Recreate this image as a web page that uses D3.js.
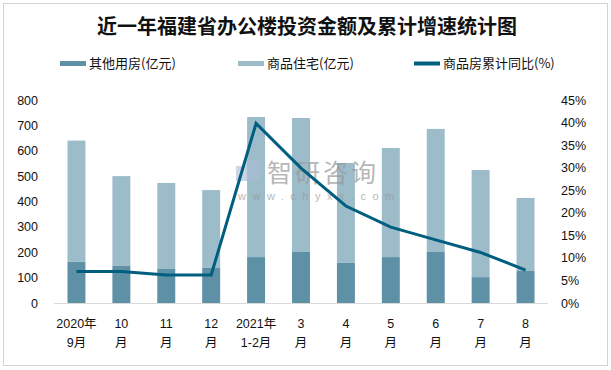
<!DOCTYPE html>
<html>
<head>
<meta charset="utf-8">
<script src="https://cdn.jsdelivr.net/npm/d3@7"></script>
<style>
  body { margin: 0; background: #fff; }
  svg { display: block; font-family: "Liberation Sans", "Noto Sans CJK SC", sans-serif; }
</style>
</head>
<body>
<script>
// categories, two label lines each
var months = ["2020年9月", "10月", "11月", "12月", "2021年1-2月", "3月", "4月", "5月", "6月", "7月", "8月"];
var labelTop = ["2020年", "10", "11", "12", "2021年", "3", "4", "5", "6", "7", "8"];
var labelBottom = ["9月", "月", "月", "月", "1-2月", "月", "月", "月", "月", "月", "月"];

// 亿元
var otherUse = [162, 148, 134, 138, 181, 201, 158, 181, 201, 102, 126];
var housing = [478, 352, 339, 307, 552, 528, 394, 430, 485, 422, 288];
// %
var growth = [7.0, 7.0, 6.2, 6.2, 39.8, 29.9, 21.5, 16.8, 14.0, 11.2, 7.3];

var leftTicks = [0, 100, 200, 300, 400, 500, 600, 700, 800];
var rightTicks = [0, 5, 10, 15, 20, 25, 30, 35, 40, 45];

var width = 611, height = 370;
var darkColor = "#5e90a6", lightColor = "#9dbcca", lineColor = "#005f7f";

var svg = d3.select("body").append("svg")
    .attr("width", width)
    .attr("height", height);

svg.append("rect")
    .attr("x", 3.5).attr("y", 3.5)
    .attr("width", 604).attr("height", 362)
    .attr("fill", "none")
    .attr("stroke", "#a6a6a6")
    .attr("stroke-dasharray", "1,1");

svg.append("text")
    .attr("x", 307).attr("y", 34)
    .attr("text-anchor", "middle")
    .style("font-family", "'Noto Sans CJK SC', sans-serif")
    .style("font-size", "20px")
    .style("font-weight", "bold")
    .attr("fill", "#111")
    .text("近一年福建省办公楼投资金额及累计增速统计图");

var x = d3.scaleBand()
    .domain(months)
    .range([54, 548])
    .paddingInner(0.6)
    .paddingOuter(0.3);

var y = d3.scaleLinear().domain([0, 800]).range([303, 100]);
var y2 = d3.scaleLinear().domain([0, 45]).range([303, 100]);

// legend
var legend = [
  { name: "其他用房(亿元)", color: darkColor, x: 60, h: 5 },
  { name: "商品住宅(亿元)", color: lightColor, x: 238, h: 5 },
  { name: "商品房累计同比(%)", color: lineColor, x: 414, h: 4 }
];
var lg = svg.selectAll(".legend").data(legend).enter().append("g")
    .attr("class", "legend");
lg.append("rect")
    .attr("x", d => d.x).attr("y", d => 63.5 - d.h / 2)
    .attr("width", 26).attr("height", d => d.h)
    .attr("fill", d => d.color);
lg.append("text")
    .attr("x", d => d.x + 29).attr("y", 68)
    .style("font-family", "'Noto Sans CJK SC', sans-serif")
    .style("font-size", "13px")
    .attr("fill", "#111")
    .text(d => d.name);

// bars
svg.selectAll(".other").data(otherUse).enter().append("rect")
    .attr("class", "other")
    .attr("x", (d, i) => x(months[i]))
    .attr("width", x.bandwidth())
    .attr("y", d => y(d))
    .attr("height", d => y(0) - y(d))
    .attr("fill", darkColor);

svg.selectAll(".housing").data(housing).enter().append("rect")
    .attr("class", "housing")
    .attr("x", (d, i) => x(months[i]))
    .attr("width", x.bandwidth())
    .attr("y", (d, i) => y(d + otherUse[i]))
    .attr("height", (d, i) => y(otherUse[i]) - y(d + otherUse[i]))
    .attr("fill", lightColor);

// baseline
svg.append("line")
    .attr("x1", 54).attr("x2", 548)
    .attr("y1", 303.5).attr("y2", 303.5)
    .attr("stroke", "#d9d9d9");

// watermark
var wm = svg.append("g").attr("opacity", 0.7);
wm.append("rect").attr("x", 236).attr("y", 166).attr("width", 9).attr("height", 15).attr("fill", "#b8c6d6");
wm.append("rect").attr("x", 245).attr("y", 160).attr("width", 15).attr("height", 21).attr("fill", "#a9bdd3");
wm.append("text")
    .attr("x", 267).attr("y", 182)
    .style("font-family", "'Noto Sans CJK SC', sans-serif")
    .style("font-size", "25px")
    .style("letter-spacing", "3px")
    .attr("fill", "#9a9a9a")
    .text("智研咨询");
wm.append("text")
    .attr("x", 238).attr("y", 200)
    .style("font-size", "11px")
    .style("letter-spacing", "6.5px")
    .attr("fill", "#9a9a9a")
    .text("www.chyxx.com");

// line
var line = d3.line()
    .x((d, i) => x(months[i]) + x.bandwidth() / 2)
    .y(d => y2(d));
svg.append("path")
    .datum(growth)
    .attr("d", line)
    .attr("fill", "none")
    .attr("stroke", lineColor)
    .attr("stroke-width", 3);

// axes
var yAxis = d3.axisLeft(y).tickValues(leftTicks).tickSize(0).tickPadding(0);
svg.append("g")
    .attr("transform", "translate(38,0)")
    .call(yAxis)
    .call(g => g.select(".domain").remove())
    .selectAll("text")
    .style("font-size", "12.5px")
    .style("font-family", "'Liberation Sans', sans-serif")
    .attr("fill", "#111");

var yAxis2 = d3.axisRight(y2).tickValues(rightTicks).tickSize(0).tickPadding(0)
    .tickFormat(d => d + "%");
svg.append("g")
    .attr("transform", "translate(561,0)")
    .call(yAxis2)
    .call(g => g.select(".domain").remove())
    .selectAll("text")
    .style("font-size", "12.5px")
    .style("font-family", "'Liberation Sans', sans-serif")
    .attr("fill", "#111");

var xl = svg.selectAll(".xlab").data(months).enter().append("text")
    .attr("class", "xlab")
    .attr("text-anchor", "middle")
    .style("font-size", "12.5px")
    .style("font-family", "'Liberation Sans', 'Noto Sans CJK SC', sans-serif")
    .attr("fill", "#111");
xl.append("tspan")
    .attr("x", d => x(d) + x.bandwidth() / 2)
    .attr("y", 328)
    .text((d, i) => labelTop[i]);
xl.append("tspan")
    .attr("x", d => x(d) + x.bandwidth() / 2)
    .attr("y", 347)
    .text((d, i) => labelBottom[i]);
</script>
</body>
</html>
